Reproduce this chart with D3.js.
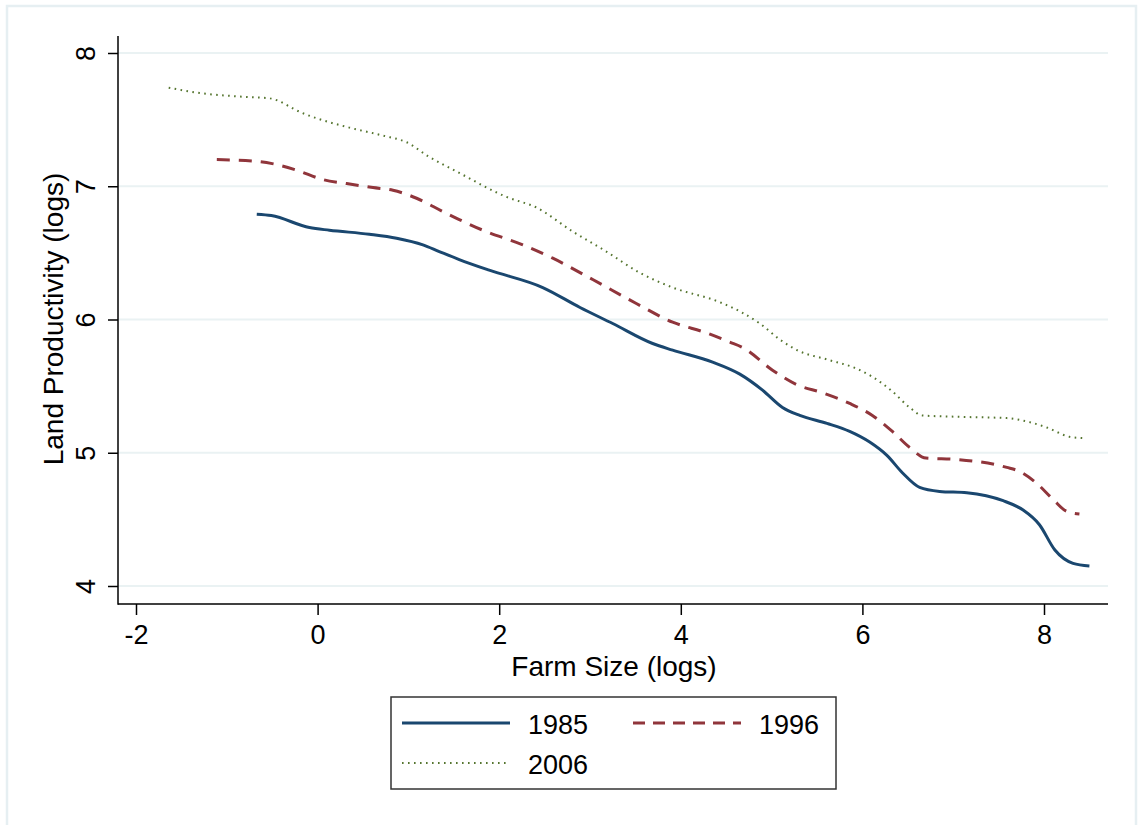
<!DOCTYPE html>
<html>
<head>
<meta charset="utf-8">
<script src="https://cdn.jsdelivr.net/npm/d3@7"></script>
<style>
  body { margin: 0; background: #ffffff; }
  svg { font-family: "Liberation Sans", Arial, sans-serif; }
</style>
</head>
<body>
<svg width="1139" height="825"></svg>
<script>
// data (farm size in logs, land productivity in logs)
var years = ["1985", "1996", "2006"];
var size1985 = [-0.67, -0.51, -0.09, 0.13, 0.57, 0.87, 1.16, 1.34, 1.56, 1.89, 2.48, 2.89, 3.25, 3.69, 3.91, 4.35, 4.65, 4.90, 5.12, 5.31, 5.61, 5.86, 6.08, 6.27, 6.44, 6.63, 6.85, 7.15, 7.55, 7.77, 7.95, 8.12, 8.32, 8.50];
var prod1985 = [6.79, 6.78, 6.69, 6.67, 6.64, 6.61, 6.56, 6.51, 6.45, 6.37, 6.24, 6.09, 5.97, 5.82, 5.77, 5.68, 5.59, 5.47, 5.34, 5.28, 5.22, 5.16, 5.08, 4.98, 4.85, 4.74, 4.71, 4.70, 4.64, 4.57, 4.46, 4.27, 4.17, 4.15];
var size1996 = [-1.11, -0.72, -0.50, -0.23, 0.06, 0.32, 0.61, 0.83, 1.09, 1.38, 1.56, 1.82, 2.26, 2.59, 3.03, 3.51, 3.91, 4.28, 4.54, 4.68, 5.01, 5.28, 5.56, 5.86, 6.11, 6.33, 6.52, 6.70, 7.04, 7.59, 7.73, 7.92, 8.10, 8.25, 8.39];
var prod1996 = [7.20, 7.19, 7.17, 7.12, 7.05, 7.02, 6.99, 6.97, 6.91, 6.81, 6.75, 6.67, 6.56, 6.46, 6.30, 6.12, 5.98, 5.90, 5.83, 5.79, 5.62, 5.51, 5.45, 5.37, 5.28, 5.16, 5.04, 4.96, 4.95, 4.89, 4.86, 4.77, 4.65, 4.56, 4.54];
var size2006 = [-1.64, -1.30, -0.78, -0.53, -0.17, -0.01, 0.35, 0.72, 0.98, 1.23, 1.56, 2.08, 2.41, 2.81, 3.18, 3.55, 3.91, 4.43, 4.68, 4.87, 5.09, 5.28, 5.61, 5.94, 6.11, 6.33, 6.52, 6.66, 7.04, 7.59, 7.84, 8.03, 8.28, 8.43];
var prod2006 = [7.74, 7.70, 7.67, 7.66, 7.55, 7.51, 7.44, 7.38, 7.33, 7.22, 7.10, 6.92, 6.84, 6.66, 6.51, 6.35, 6.24, 6.13, 6.05, 5.97, 5.85, 5.77, 5.70, 5.63, 5.57, 5.46, 5.34, 5.28, 5.27, 5.26, 5.23, 5.19, 5.12, 5.11];
var xTicks = [-2, 0, 2, 4, 6, 8];
var yTicks = [4, 5, 6, 7, 8];
var xTitle = "Farm Size (logs)";
var yTitle = "Land Productivity (logs)";

var svg = d3.select("svg");
var plotLeft = 118, plotRight = 1108, plotTop = 36, plotBottom = 604;
var colors = ["#1a476f", "#90353b", "#55752f"];
var widths = [3, 3, 2];
var dashes = [null, "13,9", "1.6,4.4"];

var x = d3.scaleLinear().domain([-2, 8]).range([136, 1044]);
var y = d3.scaleLinear().domain([4, 8]).range([586, 53]);

// plain hyphen minus like the original
var fmt = function(d){return String(d)};

// outer frame
svg.append("rect")
    .attr("x", 7).attr("y", 6)
    .attr("width", 1129).attr("height", 840)
    .attr("fill", "none")
    .attr("stroke", "#e6eff2")
    .attr("stroke-width", 2.5);

// grid lines
svg.selectAll(".grid").data(yTicks).enter().append("line")
    .attr("class", "grid")
    .attr("x1", plotLeft).attr("x2", plotRight)
    .attr("y1", function(d){return y(d)})
    .attr("y2", function(d){return y(d)})
    .attr("stroke", "#eaf2f3")
    .attr("stroke-width", 2);

// series
var series = [
    {sx: size1985, sy: prod1985},
    {sx: size1996, sy: prod1996},
    {sx: size2006, sy: prod2006}
];
var line = d3.line()
    .x(function(d){return x(d[0])})
    .y(function(d){return y(d[1])})
    .curve(d3.curveMonotoneX);

series.forEach(function(s, i){
    var pts = s.sx.map(function(v, j){return [v, s.sy[j]]});
    svg.append("path")
	.datum(pts)
	.attr("d", line)
	.attr("fill", "none")
	.attr("stroke", colors[i])
	.attr("stroke-width", widths[i])
	.attr("stroke-dasharray", dashes[i]);
});

// axes
var xAxis = svg.append("g")
    .attr("transform", "translate(0," + plotBottom + ")")
    .call(d3.axisBottom(x).tickValues(xTicks).tickSize(11).tickPadding(10).tickFormat(fmt));
var yAxis = svg.append("g")
    .attr("transform", "translate(" + plotLeft + ",0)")
    .call(d3.axisLeft(y).tickValues(yTicks).tickSize(10).tickFormat(fmt));
xAxis.select(".domain").remove();
yAxis.select(".domain").remove();
xAxis.selectAll("line").attr("stroke", "#000").attr("stroke-width", 1.5);
yAxis.selectAll("line").attr("stroke", "#000").attr("stroke-width", 1.5);
xAxis.selectAll("text")
    .attr("font-size", 27)
    .attr("font-family", "Liberation Sans, Arial, sans-serif")
    .attr("fill", "#000");
yAxis.selectAll("text")
    .attr("font-size", 27)
    .attr("font-family", "Liberation Sans, Arial, sans-serif")
    .attr("fill", "#000")
    .attr("text-anchor", "middle")
    .attr("transform", "rotate(-90)")
    .attr("x", 0)
    .attr("y", -23)
    .attr("dy", null);

// axis lines
svg.append("line")
    .attr("x1", plotLeft).attr("x2", plotLeft)
    .attr("y1", plotTop).attr("y2", plotBottom + 0.75)
    .attr("stroke", "#000").attr("stroke-width", 1.5);
svg.append("line")
    .attr("x1", plotLeft).attr("x2", plotRight)
    .attr("y1", plotBottom).attr("y2", plotBottom)
    .attr("stroke", "#000").attr("stroke-width", 1.5);

// titles
svg.append("text")
    .attr("x", 614).attr("y", 676)
    .attr("text-anchor", "middle")
    .attr("font-size", 28)
    .text(xTitle);
svg.append("text")
    .attr("transform", "translate(63,319) rotate(-90)")
    .attr("text-anchor", "middle")
    .attr("font-size", 28)
    .text(yTitle);

// legend
svg.append("rect")
    .attr("x", 391).attr("y", 697)
    .attr("width", 445).attr("height", 92)
    .attr("fill", "#fff")
    .attr("stroke", "#333")
    .attr("stroke-width", 1.5);
var leg = svg.selectAll(".leg").data(years).enter().append("g")
    .attr("class", "leg")
    .attr("transform", function(d, i){
	return "translate(" + (402 + (i % 2) * 231) + "," + (723 + Math.floor(i / 2) * 40) + ")";
    });
leg.append("line")
    .attr("x1", 0).attr("x2", 108)
    .attr("y1", 0).attr("y2", 0)
    .attr("stroke", function(d, i){return colors[i]})
    .attr("stroke-width", function(d, i){return widths[i]})
    .attr("stroke-dasharray", function(d, i){return i == 1 ? "12,8" : dashes[i]});
leg.append("text")
    .attr("x", 126).attr("y", 11)
    .attr("font-size", 27)
    .text(function(d){return d});
</script>
</body>
</html>
